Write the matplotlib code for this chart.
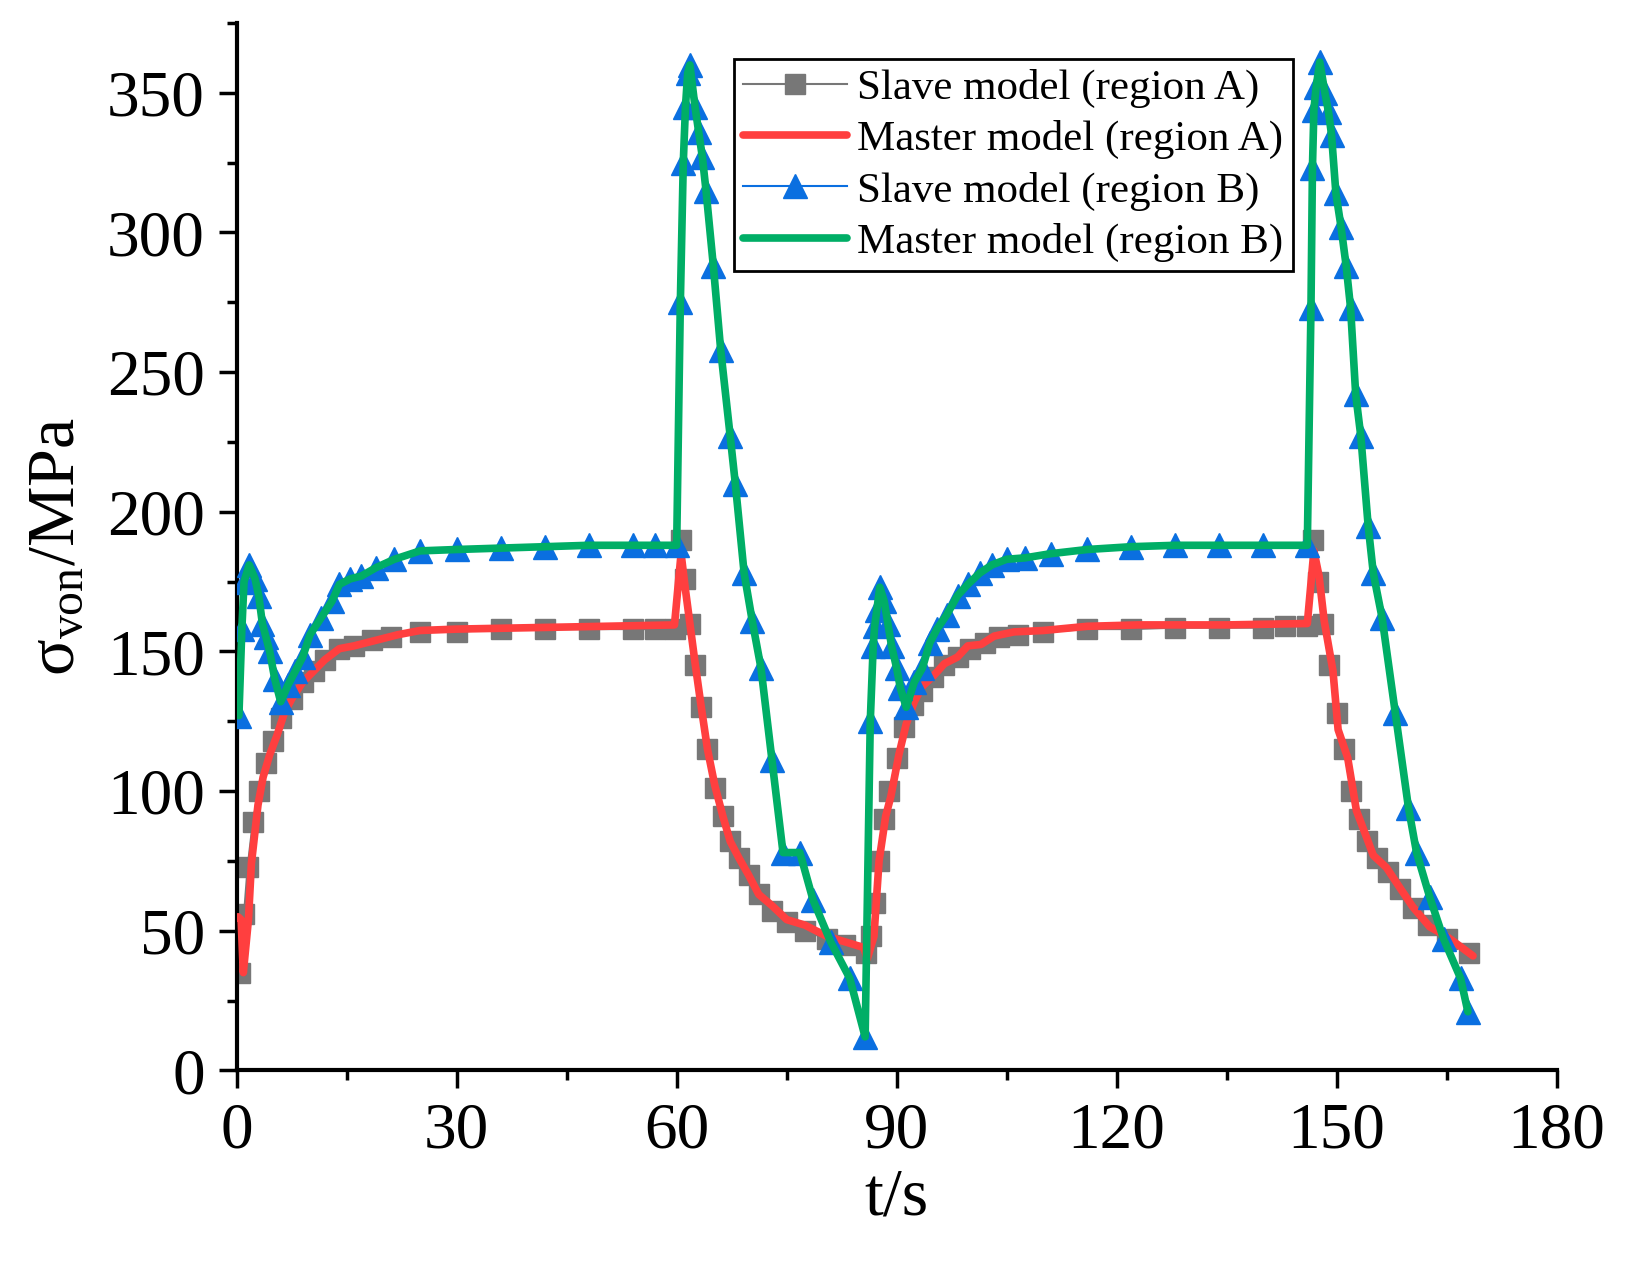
import matplotlib
matplotlib.use("Agg")
import matplotlib.pyplot as plt
from matplotlib.ticker import MultipleLocator

plt.rcParams['font.family'] = ['Liberation Serif', 'DejaVu Serif']
plt.rcParams['mathtext.fontset'] = 'custom'
plt.rcParams['mathtext.rm'] = 'Liberation Serif'
plt.rcParams['mathtext.it'] = 'Liberation Serif:italic'

# ---------------- data ----------------
# Slave model (region A) - grey squares
t_slave_A = [0.5, 1.0, 1.5, 2.2, 3.0, 4.0, 5.0, 6.0, 7.5, 9.0,
             10.5, 12.0, 14.0, 16.0, 18.5, 21.0, 25.0, 30.0, 36.0, 42.0,
             48.0, 54.0, 57.0, 59.8,
             60.6, 61.2, 61.8, 62.5, 63.3, 64.2, 65.2, 66.3, 67.3, 68.5,
             69.8, 71.2, 73.0, 75.0, 77.5, 80.5, 83.0, 85.8,
             86.5, 87.0, 87.6, 88.3, 89.0, 90.0, 91.0, 92.2, 93.5, 95.0,
             96.5, 98.3, 100.0, 102.0, 104.0, 106.5, 110.0, 116.0, 122.0, 128.0,
             134.0, 140.0, 143.0, 146.0,
             146.8, 147.5, 148.2, 149.0, 150.0, 151.0, 152.0, 153.0, 154.2, 155.5,
             157.0, 158.6, 160.4, 162.5, 165.0, 168.0]
v_slave_A = [35, 56, 73, 89, 100, 110, 118, 126, 133, 139,
             143, 147, 151, 152, 154, 155, 157, 157, 158, 158,
             158, 158, 158, 158,
             190, 176, 160, 145, 130, 115, 101, 91, 82, 76,
             70, 63, 57, 53, 50, 47, 45, 42,
             48, 60, 75, 90, 100, 112, 123, 131, 136, 141,
             145, 148, 151, 153, 155, 156, 157, 158, 158, 158.5,
             158.5, 158.5, 159, 159,
             190, 175, 160, 145, 128, 115, 100, 90, 82, 76,
             71, 65, 58, 52, 47, 42]

# Master model (region A) - red line
t_master_A = [0.2, 0.6, 0.9, 1.6, 2.0, 2.9, 3.6, 4.5, 5.5, 6.5,
              7.5, 9.0, 10.5, 12.0, 14.0, 16.0, 19.0, 22.0, 25.0, 30.0,
              40.0, 50.0, 59.7,
              60.6, 61.2, 61.8, 62.5, 63.3, 64.2, 65.2, 66.3, 67.3, 68.5,
              69.8, 71.2, 73.0, 75.0, 77.5, 80.5, 83.0, 85.5, 86.0,
              86.9, 87.6, 88.5, 89.2, 90.3, 91.3, 92.4, 93.5, 95.1, 96.5,
              98.3, 99.7, 101.5, 103.3, 106.0, 110.0, 116.0, 123.0, 135.0, 146.0,
              146.9, 147.6, 148.3, 149.5, 150.2, 151.5, 152.7, 154.0, 155.0, 156.8,
              158.6, 160.4, 162.7, 165.0, 168.6]
v_master_A = [55, 54, 35, 54, 74, 95, 105, 113, 120, 128,
              133, 139, 143, 147, 151, 152, 154, 156, 157.5, 158,
              158.5, 159, 159.5,
              185, 172, 160, 146, 131, 115, 102, 91, 82, 76,
              70, 63, 59, 54, 52, 48, 46, 44, 40,
              48, 75, 91, 98, 113, 124, 132, 137.5, 141.5, 145.6,
              148, 152, 152.5, 155.5, 157, 157.5, 159, 159.5, 159.5, 160,
              186, 177, 161, 143, 122, 112, 93, 84, 77, 72.6,
              65.5, 58.5, 51.4, 48, 41]

# Slave model (region B) - blue triangles
t_slave_B = [0.3, 0.7, 1.0, 1.7, 2.5, 3.0, 3.5, 4.0, 4.5, 5.2,
             6.0, 7.0, 8.0, 9.0, 10.0, 11.5, 13.0, 14.0, 15.5, 17.0,
             19.0, 21.5, 25.0, 30.0, 36.0, 42.0, 48.0, 54.0, 57.0, 60.0,
             60.5, 60.9, 61.2, 61.5, 61.8, 62.5, 63.0, 63.5, 64.0, 65.0,
             66.0, 67.3, 68.0, 69.2, 70.3, 71.5, 73.0, 74.5, 76.8, 78.6,
             81.0, 83.6, 85.7,
             86.4, 86.8, 87.0, 87.3, 87.7, 88.3, 88.8, 89.3, 90.0, 90.5,
             91.3, 92.4, 93.5, 94.5, 95.5, 96.8, 98.3, 99.7, 101.3, 103.0,
             105.0, 107.5, 111.0, 116.0, 122.0, 128.0, 134.0, 140.0, 146.0,
             146.5, 146.7, 146.9, 147.2, 147.7, 148.4, 148.9, 149.3, 149.9, 150.6,
             151.3, 151.9, 152.6, 153.3, 154.3, 155.0, 156.2, 158.0, 159.8, 160.9,
             162.7, 164.6, 166.9, 167.9]
v_slave_B = [127, 158, 175, 181, 176, 170, 160, 155, 150, 140,
             132, 138, 143, 148, 156, 162, 168, 174, 176, 177,
             180, 183, 186, 186.5, 187, 187.5, 188, 188, 188, 188,
             275, 325, 345, 357, 360, 345, 336, 327, 315, 288,
             258, 227, 210, 178, 161, 144, 111, 78, 78, 61,
             46, 33, 12,
             125, 152, 159, 165, 173, 168, 160, 152, 144, 137,
             130, 139, 144, 153, 158, 163, 170, 174, 178, 181,
             183, 183.5, 185, 186.5, 187.5, 188, 188, 188, 188,
             273, 323, 344, 352, 361, 350, 343, 335, 314, 302,
             288, 273, 242, 227, 195, 178, 162, 128, 94, 78,
             62, 47, 33, 21]

# Master model (region B) - green line (follows the same time steps)
t_master_B = t_slave_B
v_master_B = v_slave_B

labels = ['Slave model (region A)', 'Master model (region A)',
          'Slave model (region B)', 'Master model (region B)']
x_ticks = [0, 30, 60, 90, 120, 150, 180]
y_ticks = [0, 50, 100, 150, 200, 250, 300, 350]

# ---------------- plot ----------------
fig = plt.figure(figsize=(16.37, 12.62), dpi=100)
ax = fig.add_axes([0.1446, 0.1518, 0.8063, 0.830])

c_grey = '#777777'
c_red = '#FF3F3F'
c_blue = '#0A6FE0'
c_green = '#00AE66'

ax.plot(t_slave_A, v_slave_A, color=c_grey, lw=1.5, marker='s', ms=14.5,
        mec=c_grey, mfc=c_grey, label=labels[0], zorder=2)
ax.plot(t_master_A, v_master_A, color=c_red, lw=5.5, label=labels[1],
        zorder=3, solid_capstyle='round', solid_joinstyle='round')
ax.plot(t_slave_B, v_slave_B, color=c_blue, lw=1.5, marker='^', ms=17,
        mec=c_blue, mfc=c_blue, label=labels[2], zorder=4)
ax.plot(t_master_B, v_master_B, color=c_green, lw=5.5, label=labels[3],
        zorder=5, solid_capstyle='round', solid_joinstyle='round')

ax.set_xlim(0, 180)
ax.set_ylim(0, 375)
ax.set_xticks(x_ticks)
ax.set_yticks(y_ticks)
ax.xaxis.set_minor_locator(MultipleLocator(15))
ax.yaxis.set_minor_locator(MultipleLocator(25))

for s in ['top', 'right']:
    ax.spines[s].set_visible(False)
for s in ['left', 'bottom']:
    ax.spines[s].set_linewidth(3)

ax.tick_params(axis='both', which='major', direction='out', length=13,
               width=2.5, labelsize=47, pad=10)
ax.tick_params(axis='both', which='minor', direction='out', length=7, width=2.5)

ax.set_xlabel('t/s', fontsize=49, labelpad=4)
ax.set_ylabel(r'σ$_{\mathrm{von}}$/MPa', fontsize=49, labelpad=14)

leg = ax.legend(loc='upper left', bbox_to_anchor=(0.3767, 0.9652),
                borderaxespad=0, fontsize=31, frameon=True, fancybox=False,
                edgecolor='black', handlelength=2.4, handletextpad=0.25,
                labelspacing=0.28, borderpad=0.22, framealpha=1)
leg.get_frame().set_linewidth(2)

fig.savefig('out.png', dpi=100)
